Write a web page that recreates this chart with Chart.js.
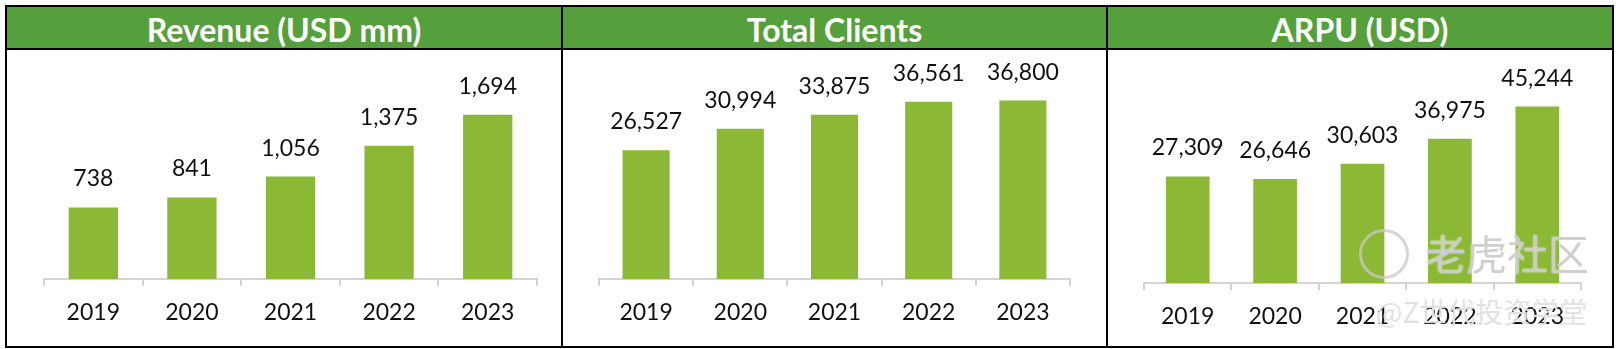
<!DOCTYPE html>
<html>
<head>
<meta charset="utf-8">
<script src="https://cdn.jsdelivr.net/npm/chart.js@4.4.0/dist/chart.umd.min.js"></script>
<style>
  html, body { margin: 0; padding: 0; background: #fff; }
  body { width: 1620px; height: 349px; position: relative; overflow: hidden; font-family: Lato, sans-serif; }
  .frame { position: absolute; left: 5px; top: 5px; width: 1605px; height: 339px; border: 2px solid #000; }
  .head { position: absolute; top: 7px; height: 41px; left: 7px; width: 1605px; background: #55a03c; }
  .hline { position: absolute; top: 48px; height: 2px; left: 7px; width: 1605px; background: #000; }
  .vline { position: absolute; top: 7px; height: 339px; width: 2px; background: #000; }
  .title { position: absolute; top: 7px; height: 41px; line-height: 45px; text-align: center;
           color: #fff; font-weight: bold; font-size: 32px; }
  .box { position: absolute; top: 50px; height: 296px; }
  .wm { position: absolute; font-family: "Noto Sans CJK SC", sans-serif; white-space: nowrap; }
</style>
</head>
<body>
<div class="frame"></div>
<div class="head"></div>
<div class="hline"></div>
<div class="vline" style="left:561px"></div>
<div class="vline" style="left:1106px"></div>

<div class="title" style="left:7px;width:554px">Revenue (USD mm)</div>
<div class="title" style="left:563px;width:543px">Total Clients</div>
<div class="title" style="left:1108px;width:504px">ARPU (USD)</div>

<div class="box" style="left:7px;width:554px"><canvas id="c1" width="554" height="296"></canvas></div>
<div class="box" style="left:563px;width:543px"><canvas id="c2" width="543" height="296"></canvas></div>
<div class="box" style="left:1108px;width:504px"><canvas id="c3" width="504" height="296"></canvas></div>

<div class="wm" style="left:1359px;top:229px;width:44px;height:44px;border:3px solid rgba(200,200,200,0.75);border-radius:50%"></div>
<div class="wm" style="left:1425px;top:222px;font-size:41px;color:rgba(195,195,195,0.8);text-shadow:0 0 2px #fff">老虎社区</div>
<div class="wm" style="left:1376px;top:291px;font-size:28px;color:rgba(215,215,215,0.75);text-shadow:0 0 1px #fff">@Z世代投资学堂</div>

<script>
const years = ['2019', '2020', '2021', '2022', '2023'];
const revenue = [738, 841, 1056, 1375, 1694];
const clients = [26527, 30994, 33875, 36561, 36800];
const arpu = [27309, 26646, 30603, 36975, 45244];

const BAR = '#8bb835';
const AXIS = '#d4d4d4';

// numbers above the bars
const valueLabels = {
    id: 'valueLabels',
    afterDatasetsDraw(chart) {
        const ctx = chart.ctx;
        const values = chart.data.datasets[0].data;
        ctx.save();
        ctx.font = '23px Lato';
        ctx.fillStyle = '#111';
        ctx.textAlign = 'center';
        ctx.textBaseline = 'alphabetic';
        chart.getDatasetMeta(0).data.forEach((bar, i) => {
            ctx.fillText(values[i].toLocaleString('en-US'), bar.x, bar.y - 21);
        });
        ctx.restore();
    }
};

function makeChart(id, values, max, padding, axisHeight) {
    return new Chart(document.getElementById(id), {
        type: 'bar',
        data: {
            labels: years,
            datasets: [{
                data: values,
                backgroundColor: BAR,
                borderWidth: 0,
                categoryPercentage: 1,
                barPercentage: 0.5
            }]
        },
        options: {
            responsive: false,
            animation: false,
            devicePixelRatio: 1,
            layout: { padding: padding },
            plugins: {
                legend: { display: false },
                tooltip: { enabled: false }
            },
            scales: {
                y: { display: false, min: 0, max: max },
                x: {
                    grid: {
                        offset: true,
                        drawOnChartArea: false,
                        drawTicks: true,
                        tickLength: 7,
                        color: AXIS,
                        lineWidth: 2
                    },
                    border: { display: true, color: AXIS, width: 2 },
                    ticks: {
                        color: '#111',
                        font: { family: 'Lato', size: 23 },
                        padding: 13,
                        maxRotation: 0
                    },
                    afterFit(scale) { scale.height = axisHeight; }
                }
            }
        },
        plugins: [valueLabels]
    });
}

makeChart('c1', revenue, 2000, { left: 37, right: 24, top: 35, bottom: 0 }, 67);
makeChart('c2', clients, 40000, { left: 36, right: 36, top: 35, bottom: 0 }, 67);
makeChart('c3', arpu, 50000, { left: 36, right: 31, top: 38, bottom: 0 }, 63);
</script>
</body>
</html>
